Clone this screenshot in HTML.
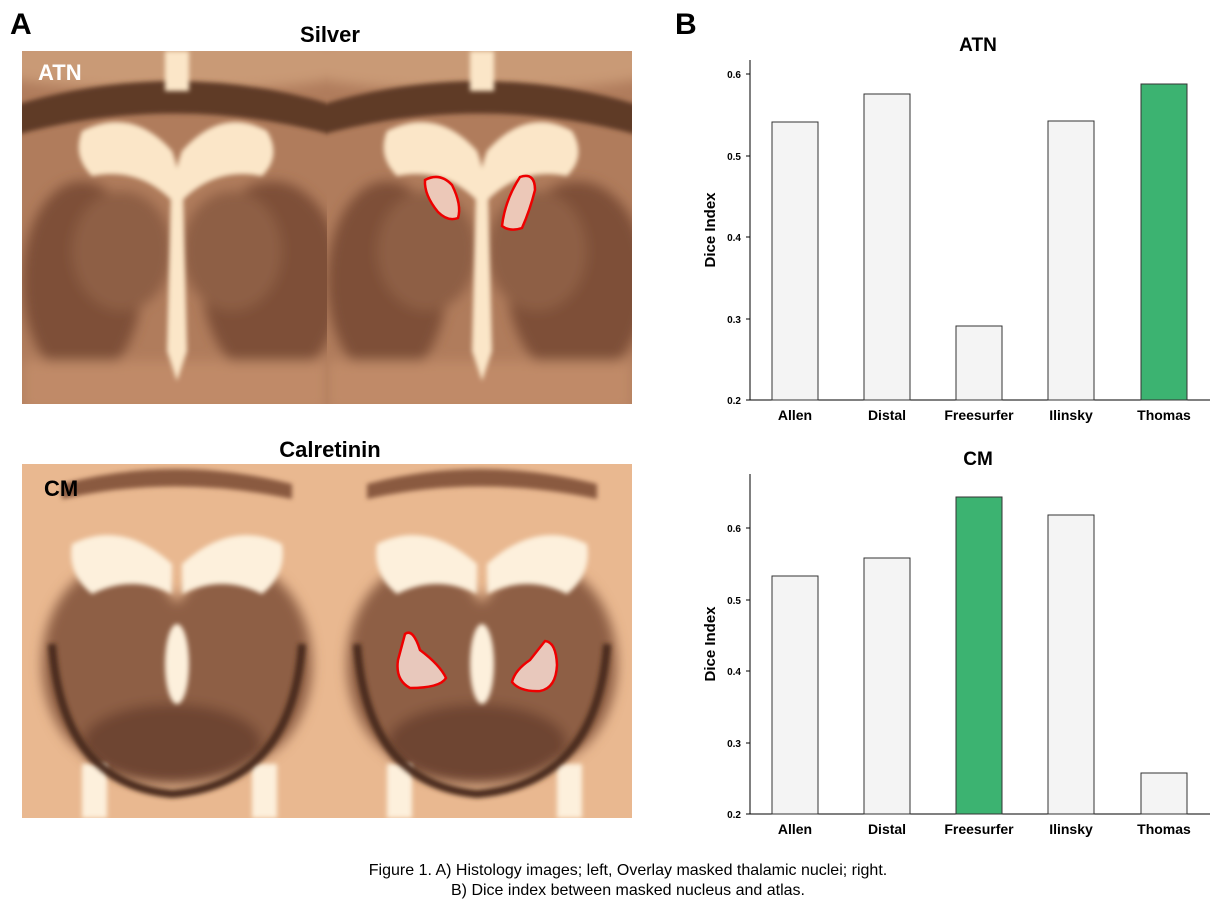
<!DOCTYPE html>
<html><head><meta charset="utf-8"><style>
body{margin:0;background:#fff;width:1223px;height:907px;overflow:hidden;font-family:"Liberation Sans",Arial,sans-serif;}
svg text{font-family:"Liberation Sans",Arial,sans-serif;}
</style></head><body>
<svg width="1223" height="907" viewBox="0 0 1223 907" xmlns="http://www.w3.org/2000/svg">
<defs>
<filter id="bl" x="-20%" y="-20%" width="140%" height="140%"><feGaussianBlur stdDeviation="6"/></filter>
<filter id="bl2" x="-20%" y="-20%" width="140%" height="140%"><feGaussianBlur stdDeviation="2.5"/></filter>
<clipPath id="c1"><rect x="0" y="0" width="305" height="353"/></clipPath>
<g id="top">
 <g clip-path="url(#c1)">
 <rect width="305" height="353" fill="#b07c5c"/>
 <g filter="url(#bl)">
  <ellipse cx="60" cy="230" rx="60" ry="100" fill="#7e5038"/>
  <ellipse cx="250" cy="230" rx="70" ry="100" fill="#7e5038"/>
  <ellipse cx="100" cy="200" rx="50" ry="60" fill="#8e5e44"/>
  <ellipse cx="210" cy="200" rx="50" ry="60" fill="#8e5e44"/>
  <rect x="0" y="310" width="305" height="50" fill="#c08a68"/>
  <ellipse cx="152" cy="10" rx="200" ry="30" fill="#c99a76"/>
 </g>
 <path d="M-10 55 Q152 5 315 55 L315 85 Q152 40 -10 85Z" fill="#5e3a26" filter="url(#bl2)"/>
 <g filter="url(#bl2)" fill="#fbe6c8">
  <path d="M60 80 Q110 55 150 100 Q160 125 155 155 Q120 115 70 125 Q50 105 60 80Z"/>
  <path d="M245 80 Q200 55 160 100 Q150 125 155 155 Q190 115 240 125 Q260 105 245 80Z"/>
  <path d="M149 140 L161 140 L165 300 L155 330 L145 300Z"/>
  <rect x="143" y="0" width="24" height="40"/>
 </g>
 </g>
</g>
<clipPath id="c2"><rect x="0" y="0" width="305" height="354"/></clipPath>
<g id="bot">
 <g clip-path="url(#c2)">
 <rect width="305" height="354" fill="#e9b890"/>
 <g filter="url(#bl)">
  <ellipse cx="95" cy="200" rx="75" ry="100" fill="#8e5e44"/>
  <ellipse cx="215" cy="200" rx="75" ry="100" fill="#8e5e44"/>
  <ellipse cx="150" cy="280" rx="90" ry="40" fill="#6e4430"/>
 </g>
 <path d="M40 20 Q152 -10 270 20 L270 35 Q152 10 40 35Z" fill="#8a5a40" filter="url(#bl2)"/>
 <g filter="url(#bl2)" fill="#fdf0dc">
  <path d="M50 80 Q100 55 150 100 L150 130 Q110 110 70 130 Q45 110 50 80Z"/>
  <path d="M260 80 Q210 55 160 100 L160 130 Q200 110 240 130 Q265 110 260 80Z"/>
  <ellipse cx="155" cy="200" rx="12" ry="40"/>
  <rect x="60" y="300" width="25" height="54"/>
  <rect x="230" y="300" width="25" height="54"/>
 </g>
 <path d="M30 180 Q40 320 150 330 Q270 320 280 180" fill="none" stroke="#4a2a1c" stroke-width="8" filter="url(#bl2)"/>
 </g>
</g>
</defs>

<text x="10" y="34" font-size="30" font-weight="bold">A</text>
<text x="675" y="34" font-size="30" font-weight="bold">B</text>
<text x="330" y="42" font-size="22" font-weight="bold" text-anchor="middle">Silver</text>
<text x="330" y="457" font-size="22" font-weight="bold" text-anchor="middle">Calretinin</text>

<use href="#top" x="22" y="51"/>
<use href="#top" x="327" y="51"/>
<use href="#bot" x="22" y="464"/>
<use href="#bot" x="327" y="464"/>
<text x="38" y="80" font-size="22" font-weight="bold" fill="#fff">ATN</text>
<text x="44" y="496" font-size="22" font-weight="bold" fill="#000">CM</text>
<path d="M425 180 Q440 172 452 185 Q462 205 458 218 Q448 222 438 212 Q424 195 425 180Z" fill="#ecc8b8" stroke="#e00" stroke-width="2.5"/>
<path d="M520 177 Q535 172 535 190 Q530 210 522 228 Q510 232 502 226 Q505 200 520 177Z" fill="#ecc8b8" stroke="#e00" stroke-width="2.5"/>
<path d="M405 634 Q413 628 420 650 Q440 665 446 678 Q440 688 410 688 Q395 680 398 660Z" fill="#e8c8bc" stroke="#e00" stroke-width="2.5"/>
<path d="M545 641 Q556 642 557 665 Q556 688 540 691 Q520 692 512 682 Q515 670 530 660Z" fill="#e8c8bc" stroke="#e00" stroke-width="2.5"/>

<g font-size="10" font-weight="bold" text-anchor="end">
<text x="978" y="51" font-size="19" text-anchor="middle">ATN</text>
<line x1="750" y1="60" x2="750" y2="400" stroke="#000"/>
<line x1="750" y1="400" x2="1210" y2="400" stroke="#000"/>
<g stroke="#000"><line x1="746" y1="74" x2="750" y2="74"/><line x1="746" y1="156" x2="750" y2="156"/><line x1="746" y1="237" x2="750" y2="237"/><line x1="746" y1="319" x2="750" y2="319"/><line x1="746" y1="400" x2="750" y2="400"/></g>
<text x="741" y="78">0.6</text><text x="741" y="160">0.5</text><text x="741" y="241">0.4</text><text x="741" y="323">0.3</text><text x="741" y="404">0.2</text>
<text transform="translate(715 230) rotate(-90)" font-size="15" text-anchor="middle">Dice Index</text>
<g stroke="#333" stroke-width="1" fill="#f4f4f4">
<rect x="772" y="122" width="46" height="278"/><rect x="864" y="94" width="46" height="306"/><rect x="956" y="326" width="46" height="74"/><rect x="1048" y="121" width="46" height="279"/><rect x="1141" y="84" width="46" height="316" fill="#3cb371"/>
</g>
<g font-size="14" text-anchor="middle"><text x="795" y="420">Allen</text><text x="887" y="420">Distal</text><text x="979" y="420">Freesurfer</text><text x="1071" y="420">Ilinsky</text><text x="1164" y="420">Thomas</text></g>
</g>
<g font-size="10" font-weight="bold" text-anchor="end">
<text x="978" y="465" font-size="19" text-anchor="middle">CM</text>
<line x1="750" y1="474" x2="750" y2="814" stroke="#000"/>
<line x1="750" y1="814" x2="1210" y2="814" stroke="#000"/>
<g stroke="#000"><line x1="746" y1="528" x2="750" y2="528"/><line x1="746" y1="600" x2="750" y2="600"/><line x1="746" y1="671" x2="750" y2="671"/><line x1="746" y1="743" x2="750" y2="743"/><line x1="746" y1="814" x2="750" y2="814"/></g>
<text x="741" y="532">0.6</text><text x="741" y="604">0.5</text><text x="741" y="675">0.4</text><text x="741" y="747">0.3</text><text x="741" y="818">0.2</text>
<text transform="translate(715 644) rotate(-90)" font-size="15" text-anchor="middle">Dice Index</text>
<g stroke="#333" stroke-width="1" fill="#f4f4f4">
<rect x="772" y="576" width="46" height="238"/><rect x="864" y="558" width="46" height="256"/><rect x="956" y="497" width="46" height="317" fill="#3cb371"/><rect x="1048" y="515" width="46" height="299"/><rect x="1141" y="773" width="46" height="41"/>
</g>
<g font-size="14" text-anchor="middle"><text x="795" y="834">Allen</text><text x="887" y="834">Distal</text><text x="979" y="834">Freesurfer</text><text x="1071" y="834">Ilinsky</text><text x="1164" y="834">Thomas</text></g>
</g>

<g font-size="16" text-anchor="middle"><text x="628" y="875">Figure 1. A) Histology images; left, Overlay masked thalamic nuclei; right.</text><text x="628" y="895">B) Dice index between masked nucleus and atlas.</text></g>
</svg>
</body></html>
